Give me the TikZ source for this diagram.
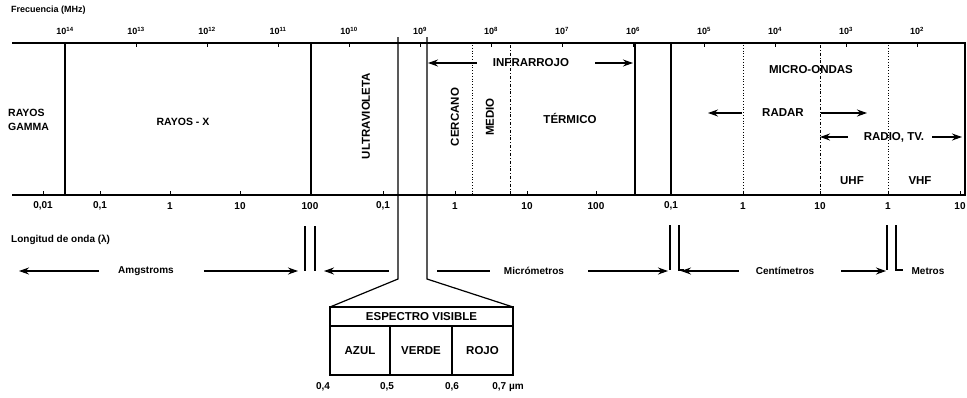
\documentclass[tikz,border=0pt]{standalone}
\usepackage{fontspec}
\setmainfont{Liberation Sans}
\usetikzlibrary{arrows.meta}
\tikzstyle{band} = [font=\fontsize{11.5}{13}\selectfont\bfseries, align=center, inner sep=1pt]
\tikzstyle{smallband} = [font=\fontsize{10.5}{14}\selectfont\bfseries, align=left, inner sep=1pt]
\tikzstyle{ticklabel} = [font=\fontsize{10}{12}\selectfont\bfseries, inner sep=1pt]
\tikzstyle{powerlabel} = [font=\fontsize{9}{11}\selectfont\bfseries, inner sep=1pt]
\tikzstyle{unitlabel} = [font=\fontsize{10}{12}\selectfont\bfseries, inner sep=1pt]
\tikzstyle{axistitle} = [font=\fontsize{10}{12}\selectfont\bfseries, anchor=west, inner sep=0pt]
\tikzstyle{boxline} = [line width=1.2pt]
\tikzstyle{dotline} = [line width=0.8pt, dotted]
\tikzstyle{dashline} = [line width=0.7pt, dash dot]
\tikzstyle{tick} = [line width=0.6pt]
\tikzstyle{colorbox} = [band, draw, line width=1.2pt, minimum height=49pt, inner sep=0pt, outer sep=0pt, anchor=north west]
\tikzstyle{arrow} = [line width=1.1pt, -{Stealth[length=10pt,width=7pt]}]

\begin{document}
\begin{tikzpicture}[x=1pt, y=-1pt]
\useasboundingbox (0,0) rectangle (967,397);

% titles of the two scales
\node (freq) [axistitle, font=\fontsize{9}{11}\selectfont\bfseries] at (11,10) {Frecuencia (MHz)};
\node (lambda) [axistitle] at (11,240) {Longitud de onda (λ)};

% frame and scales
\draw[boxline] (12,43) -- (965,43) -- (965,195) -- (12,195);
\foreach \e [count=\i from 0] in {14,13,...,2} {
  \draw[tick] (65+71*\i,43) -- ++(0,4);
  \node[powerlabel] at (65+71*\i,31) {10\textsuperscript{\e}};
}
\foreach \x/\lab in {43/{0,01}, 100/{0,1}, 170/1, 240/10, 310/100, 383/{0,1}, 455/1, 527/10, 596/100, 671/{0,1}, 743/1, 820/10, 888/1, 960/10} {
  \draw[tick] (\x,195) -- ++(0,-4);
  \node[ticklabel] at (\x,206) {\lab};
}

% limits between bands
\foreach \x in {65,311,635,671}
  \draw[boxline] (\x,43) -- (\x,195);
\foreach \x in {472,743,888}
  \draw[dotline] (\x,45) -- (\x,195);
\foreach \x in {510,820}
  \draw[dashline] (\x,45) -- (\x,195);

% bands
\node (gamma) [smallband, anchor=west] at (7,120) {RAYOS\\GAMMA};
\node (xray) [smallband] at (183,122) {RAYOS - X};
\node (uv) [band, rotate=90] at (366,116) {ULTRAVIOLETA};
\node (cercano) [band, rotate=90] at (455,117) {CERCANO};
\node (medio) [band, rotate=90] at (490,117) {MEDIO};
\node (termico) [band] at (570,118) {TÉRMICO};
\node (infra) [band] at (531,63) {INFRARROJO};
\node (micro) [band] at (811,70) {MICRO-ONDAS};
\node (radar) [band] at (783,113) {RADAR};
\node (radio) [band] at (894,137) {RADIO, TV.};
\node (uhf) [band] at (852,181) {UHF};
\node (vhf) [band] at (920,181) {VHF};

\coordinate (ir-w) at (428,63);
\coordinate (ir-e) at (633,63);
\coordinate (rad-w) at (708,113);
\coordinate (rad-e) at (867,113);
\coordinate (tv-w) at (820,137);
\coordinate (tv-e) at (962,137);
\draw[arrow] ([xshift=-15pt]infra.west) -- (ir-w);
\draw[arrow] ([xshift=25pt]infra.east) -- (ir-e);
\draw[arrow] ([xshift=-19pt]radar.west) -- (rad-w);
\draw[arrow] ([xshift=16pt]radar.east) -- (rad-e);
\draw[arrow] ([xshift=-15pt]radio.west) -- (tv-w);
\draw[arrow] ([xshift=7pt]radio.east) -- (tv-e);

% units of wavelength
\draw[boxline] (305,226) -- (305,271) (315,226) -- (315,271);
\draw[boxline] (670,225) -- (670,270) (679,225) -- (679,270) -- (684,270);
\draw[boxline] (887,225) -- (887,270) (896,225) -- (896,270) -- (903,270);

\node (ang) [unitlabel] at (146,271) {Amgstroms};
\node (mic) [unitlabel] at (534,271) {Micrómetros};
\node (cen) [unitlabel] at (785,271) {Centímetros};
\node (met) [unitlabel] at (928,271) {Metros};

\coordinate (ang-w) at (19,271);
\coordinate (ang-e) at (298,271);
\coordinate (mic-w) at (324,271);
\coordinate (mic-e) at (668,271);
\coordinate (cen-w) at (681,271);
\coordinate (cen-e) at (886,271);
\draw[arrow] ([xshift=-18pt]ang.west) -- (ang-w);
\draw[arrow] ([xshift=29pt]ang.east) -- (ang-e);
\draw[arrow] ([xshift=-114pt]mic.west) -- (mic-w);
\draw[line width=1.1pt] ([xshift=-13pt]mic.west) -- ++(-53,0);
\draw[arrow] ([xshift=23pt]mic.east) -- (mic-e);
\draw[arrow] ([xshift=-16pt]cen.west) -- (cen-w);
\draw[arrow] ([xshift=26pt]cen.east) -- (cen-e);

% visible spectrum
\node (vis) [band, draw, line width=1.2pt, minimum width=183pt, minimum height=19pt, inner sep=0pt, outer sep=0pt] at (421.5,316.5) {ESPECTRO VISIBLE};
\node (azul) [colorbox, minimum width=60pt] at (vis.south west) {AZUL};
\node (verde) [colorbox, minimum width=62pt] at (azul.north east) {VERDE};
\node (rojo) [colorbox, minimum width=61pt] at (verde.north east) {ROJO};
\draw[boxline] (398,37) -- (398,279) -- (vis.north west);
\draw[boxline] (427,37) -- (427,279) -- (vis.north east);

\node (l04) [ticklabel] at (323,387) {0,4};
\node (l05) [ticklabel] at (387,387) {0,5};
\node (l06) [ticklabel] at (452,387) {0,6};
\node (l07) [ticklabel] at (508,387) {0,7 µm};
\end{tikzpicture}
\end{document}
